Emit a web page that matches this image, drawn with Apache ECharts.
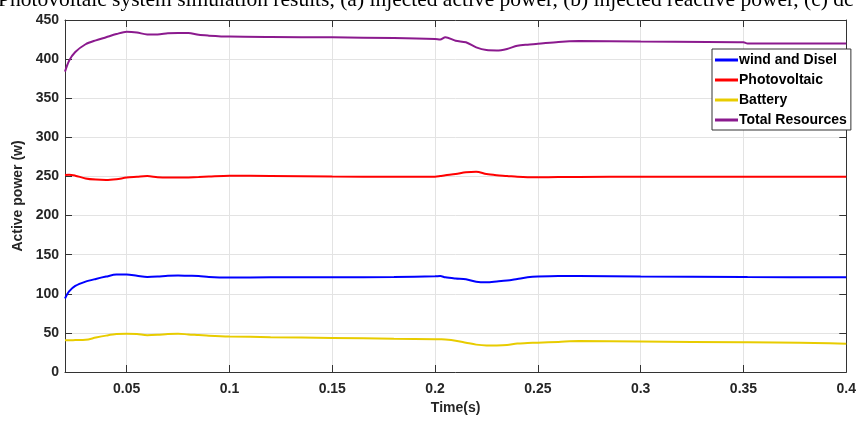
<!DOCTYPE html>
<html>
<head>
<meta charset="utf-8">
<script src="https://cdn.jsdelivr.net/npm/echarts@6/dist/echarts.min.js"></script>
<style>
  html, body { margin: 0; padding: 0; background: #fff; }
  #main { width: 859px; height: 427px; }
</style>
</head>
<body>
<div id="main"></div>
<script>
// time samples (s), shared by every curve
const time_s = [0.02, 0.022, 0.025, 0.03, 0.035, 0.04, 0.045, 0.05, 0.055, 0.06, 0.065, 0.07, 0.075, 0.08,
    0.085, 0.09, 0.1, 0.12, 0.15, 0.18, 0.2, 0.2025, 0.205, 0.21, 0.215, 0.22, 0.225, 0.23, 0.235, 0.24,
    0.245, 0.25, 0.26, 0.27, 0.3, 0.35, 0.352, 0.4];

const wind_diesel = [94, 103, 110, 115.5, 119, 122, 124.5, 124.5, 123, 121.5, 122, 123, 123.3, 123,
    122.8, 121.5, 120.8, 121, 121, 121.5, 122.3, 122.8, 121, 119.5, 118.5, 115.5, 114.8, 115.8, 117, 119,
    121, 122, 122.8, 122.8, 122, 121.5, 121.3, 121];

const photovoltaic = [252, 252.3, 251, 247.5, 246, 245.5, 246.5, 248.5, 249.5, 250.5, 249, 248.5, 248.5, 248.8,
    249.2, 249.8, 250.8, 250.6, 249.8, 249.7, 249.7, 250.5, 251.5, 253, 255.5, 256, 253, 251.5, 250.6, 249.5,
    249, 249, 249.2, 249.4, 249.6, 249.7, 249.7, 249.7];

const battery = [40.5, 40.5, 40.8, 41.2, 44, 46.5, 48.5, 49, 48.5, 47, 47.5, 48.5, 49, 48,
    47.3, 46.5, 45.5, 44.5, 43.5, 42.5, 42, 41.8, 41.5, 40, 37.5, 35, 34, 34, 34.5, 36.5,
    37, 37.5, 38.5, 39.5, 39, 38, 38, 36.2];

const total_resources = [384, 398, 409, 419, 424, 428, 432, 435, 434, 431.5, 431.5, 433, 433.5, 433.5,
    431, 430, 428.8, 428.2, 427.8, 427, 425.8, 425, 428, 423.5, 421.5, 415, 411.5, 411, 413, 417,
    418.5, 419.5, 422, 423, 422.4, 421.6, 420, 420];

const series_names = ['wind and Disel', 'Photovoltaic', 'Battery', 'Total Resources'];
const series_colors = ['#0000ff', '#ff0000', '#e8cc00', '#8b1a8e'];

function pairs(values) {
    return time_s.map(function (t, i) {
        return [t, values[i]];
    });
}

var chartDom = document.getElementById('main');
var myChart = echarts.init(chartDom);

const labelFont = {
    fontFamily: 'Liberation Sans, Arial, sans-serif',
    fontWeight: 'bold',
    fontSize: 14,
    color: '#262626'
};

var all_values = [wind_diesel, photovoltaic, battery, total_resources];

var option = {
    animation: false,
    title: {
        text: 'Photovoltaic system simulation results, (a) injected active power, (b) injected reactive power, (c) dc link voltage',
        left: -2,
        top: -11,
        padding: 0,
        textStyle: {
            fontFamily: 'Liberation Serif, Times New Roman, serif',
            fontWeight: 'normal',
            fontSize: 21.5,
            color: '#000'
        }
    },
    grid: {
        left: 65,
        right: 10,
        top: 20,
        bottom: 55
    },
    legend: {
        orient: 'vertical',
        left: 712,
        top: 49,
        padding: [4, 4, 3, 3],
        itemGap: 6,
        itemWidth: 23,
        itemHeight: 3,
        icon: 'rect',
        backgroundColor: '#fff',
        borderColor: '#333',
        borderWidth: 1,
        borderRadius: 0,
        data: series_names,
        textStyle: {
            fontFamily: 'Liberation Sans, Arial, sans-serif',
            fontWeight: 'bold',
            fontSize: 14,
            color: '#000',
            lineHeight: 14,
            padding: [0, 0, 0, -4]
        }
    },
    xAxis: [
        {
            type: 'value',
            min: 0.02,
            max: 0.4,
            splitNumber: 8,
            name: 'Time(s)',
            nameLocation: 'middle',
            nameGap: 23,
            nameTextStyle: labelFont,
            axisLine: { lineStyle: { color: '#333', width: 1 } },
            axisTick: { inside: true, length: 7, lineStyle: { color: '#333' } },
            axisLabel: Object.assign({ margin: 10, showMinLabel: false }, labelFont),
            splitLine: { show: true, lineStyle: { color: '#e3e3e3' } }
        },
        {
            type: 'value',
            position: 'top',
            min: 0.02,
            max: 0.4,
            splitNumber: 8,
            axisLine: { show: true, onZero: false, lineStyle: { color: '#333', width: 1 } },
            axisTick: { show: true, inside: true, length: 7, lineStyle: { color: '#333' } },
            axisLabel: { show: false },
            splitLine: { show: false }
        }
    ],
    yAxis: [
        {
            type: 'value',
            min: 0,
            max: 450,
            interval: 50,
            name: 'Active power (w)',
            nameLocation: 'middle',
            nameGap: 38,
            nameTextStyle: labelFont,
            axisLine: { show: true, lineStyle: { color: '#333', width: 1 } },
            axisTick: { show: true, inside: true, length: 7, lineStyle: { color: '#333' } },
            axisLabel: Object.assign({ margin: 6 }, labelFont),
            splitLine: { show: true, lineStyle: { color: '#e3e3e3' } }
        },
        {
            type: 'value',
            position: 'right',
            min: 0,
            max: 450,
            interval: 50,
            axisLine: { show: true, onZero: false, lineStyle: { color: '#333', width: 1 } },
            axisTick: { show: true, inside: true, length: 7, lineStyle: { color: '#333' } },
            axisLabel: { show: false },
            splitLine: { show: false }
        }
    ],
    series: series_names.map(function (name, k) {
        return {
            name: name,
            type: 'line',
            xAxisIndex: 0,
            yAxisIndex: 0,
            smooth: 0.3,
            symbol: 'none',
            color: series_colors[k],
            lineStyle: { width: 2, color: series_colors[k] },
            data: pairs(all_values[k]),
            z: 3
        };
    })
};
myChart.setOption(option);
</script>
</body>
</html>
